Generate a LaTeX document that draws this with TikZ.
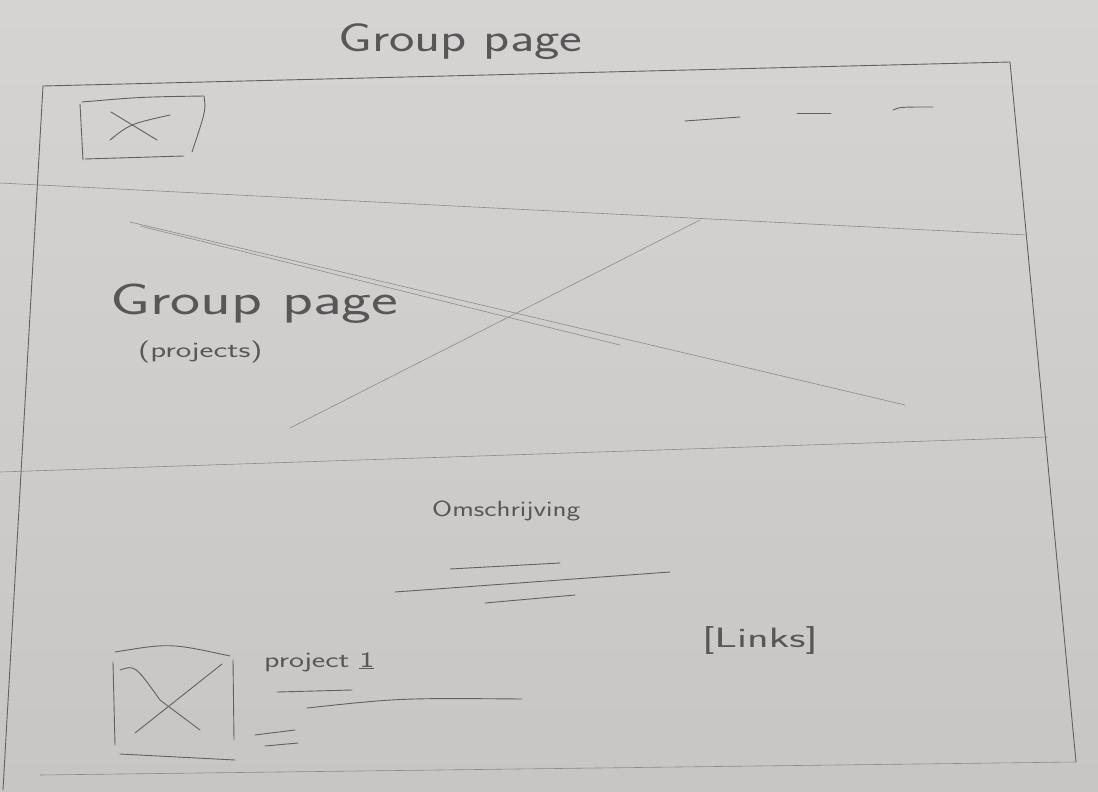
\documentclass[tikz,border=0pt]{standalone}
\usepackage{fontspec}
\setmainfont{DejaVu Sans}
\begin{document}
\begin{tikzpicture}[x=1pt,y=-1pt,
  pencil/.style={draw=black!62, line width=0.9pt, line cap=round, line join=round},
  faint/.style={draw=black!45, line width=0.6pt, line cap=round},
  script/.style={text=black!66, inner sep=0pt, anchor=west, font=\fontsize{#1}{#1}\selectfont\sffamily},
  script/.default=20]
  % paper
  \shade[top color={rgb,255:red,214;green,211;blue,211}, bottom color={rgb,255:red,200;green,197;blue,197}]
    (0,0) rectangle (1098,792);
  \useasboundingbox (0,0) rectangle (1098,792);

  % page title
  \node[script=40] (title) at (338,42) {\scalebox{1.35}[1]{Group page}};

  % outer frame of the page
  \coordinate (tl) at (43,86);
  \coordinate (tr) at (1010,62);
  \coordinate (br) at (1076,762);
  \coordinate (bl) at (3,790);
  \draw[pencil] (tl) -- (tr) -- (br);
  \draw[pencil] (tl) -- (bl);
  \draw[faint] (br) -- (40,775);

  % section dividers
  \coordinate (h1l) at (0,183);
  \coordinate (h1r) at (1027,235);
  \coordinate (h2l) at (0,472);
  \coordinate (h2r) at (1048,437);
  \draw[faint] (h1l) -- (h1r);
  \draw[faint] (h2l) -- (h2r);

  % header: logo placeholder
  \draw[pencil] (80,104) -- (83,160);
  \draw[pencil] (82,102) .. controls (140,97) .. (204,96) .. controls (206,110) .. (192,152);
  \draw[pencil] (85,159) -- (184,156);
  \draw[pencil] (111,112) -- (157,140);
  \draw[pencil] (110,140) .. controls (130,124) .. (170,115);

  % header: menu items
  \draw[pencil] (685,121) -- (740,117);
  \draw[pencil] (797,113) -- (831,113);
  \draw[pencil] (893,110) .. controls (900,107) .. (933,107);

  % hero image placeholder
  \draw[faint] (130,222) -- (905,405);
  \draw[faint] (140,226) -- (620,345);
  \draw[faint] (700,220) -- (290,428);

  % hero title
  \node[script=44] (hero) at (110,304) {\scalebox{1.45}[1]{Group page}};
  \node[script=22] (heroSub) at (138,352) {\scalebox{1.5}[1]{(projects)}};

  % description
  \node[script=22] (desc) at (432,511) {\scalebox{1.32}[1]{Omschrijving}};
  \draw[pencil] (450,569) -- (560,563);
  \draw[pencil] (395,592) -- (670,572);
  \draw[pencil] (485,603) -- (575,595);

  % project image placeholder
  \draw[pencil] (115,652) .. controls (170,643) .. (230,656);
  \draw[pencil] (113,662) -- (115,745);
  \draw[pencil] (233,660) -- (234,740);
  \draw[pencil] (120,754) -- (235,760);
  \draw[pencil] (120,670) .. controls (135,665) .. (160,700) -- (200,730);
  \draw[pencil] (135,733) -- (222,664);

  % project entry
  \node[script=22] (proj) at (264,662) {\scalebox{1.45}[1]{project \underline{1}}};
  \draw[pencil] (277,692) -- (352,690);
  \draw[pencil] (307,708) .. controls (400,698) .. (522,699);
  \draw[pencil] (255,735) -- (295,730);
  \draw[pencil] (265,746) -- (298,743);

  % links
  \node[script=28] (links) at (702,640) {\scalebox{1.6}[1]{[Links]}};
\end{tikzpicture}
\end{document}
